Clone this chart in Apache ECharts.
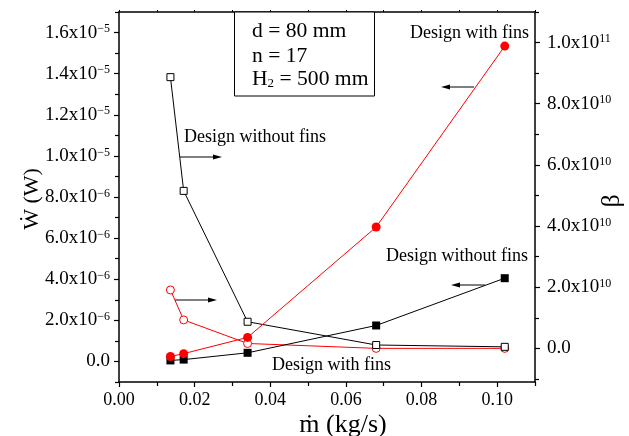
<!DOCTYPE html>
<html>
<head>
<meta charset="utf-8">
<script src="https://cdn.jsdelivr.net/npm/echarts@6/dist/echarts.min.js"></script>
<style>
  html, body { margin: 0; padding: 0; background: #fff; }
  #chart { width: 629px; height: 436px; }
</style>
</head>
<body>
<div id="chart"></div>
<script>
// Mass flow rate (kg/s)
const massFlow = [0.0136, 0.0171, 0.0340, 0.0680, 0.1020];

// Pumping power W (left axis)
const powerNoFins = [5e-8, 9e-8, 4.2e-7, 1.75e-6, 4.05e-6];
const powerFins = [2.4e-7, 3.8e-7, 1.17e-6, 6.54e-6, 1.534e-5];

// Beta (right axis)
const betaNoFins = [8.87e10, 5.15e10, 8.7e9, 1.1e9, 5e8];
const betaFins = [1.91e10, 9.3e9, 1.6e9, 0, 0];

// Tick positions
const xMajor = [0, 0.02, 0.04, 0.06, 0.08, 0.10];
const xMinor = [0.01, 0.03, 0.05, 0.07, 0.09, 0.11];
const xTop = [0, 0.01, 0.02, 0.03, 0.04, 0.05, 0.06, 0.07, 0.08, 0.09, 0.10, 0.11];
const wMajor = [0, 2e-6, 4e-6, 6e-6, 8e-6, 1e-5, 1.2e-5, 1.4e-5, 1.6e-5];
const wMinor = [-1e-6, 1e-6, 3e-6, 5e-6, 7e-6, 9e-6, 1.1e-5, 1.3e-5, 1.5e-5, 1.7e-5];
const bMajor = [0, 2e10, 4e10, 6e10, 8e10, 1e11];
const bMinor = [-1e10, 1e10, 3e10, 5e10, 7e10, 9e10, 1.1e11];

const SERIF = '"Liberation Serif", "Times New Roman", serif';

function sciLabel(v) {
  if (Math.abs(v) < 1e-30) return '{m|0.0}';
  const e = Math.floor(Math.log10(Math.abs(v)) + 1e-9);
  const m = v / Math.pow(10, e);
  return '{m|' + m.toFixed(1) + 'x10}{e|' + String(e).replace('-', '\u2212') + '}';
}
const sciRich = {
  m: { fontFamily: SERIF, fontSize: 19, color: '#000' },
  e: { fontFamily: SERIF, fontSize: 12, color: '#000', verticalAlign: 'top' }
};

function pairs(ys) { return massFlow.map((x, i) => [x, ys[i]]); }

const axisLine = { show: true, onZero: false, lineStyle: { color: '#000', width: 1.5 } };
const hiddenLine = { show: false, onZero: false };

function arrow(x1, x2, y) {
  const dir = x2 > x1 ? 1 : -1;
  return {
    type: 'group',
    children: [
      { type: 'line', shape: { x1: x1, y1: y, x2: x2 - dir * 6, y2: y }, style: { stroke: '#000', lineWidth: 1 } },
      { type: 'polygon', shape: { points: [[x2, y], [x2 - dir * 9, y - 2.5], [x2 - dir * 9, y + 2.5]] }, style: { fill: '#000' } }
    ]
  };
}

function note(text, x, y) {
  return {
    type: 'text', x: x, y: y,
    style: { text: text, fontFamily: SERIF, fontSize: 18, fill: '#000', align: 'left', verticalAlign: 'middle' }
  };
}

function boxLine(text, y) {
  return {
    type: 'text', x: 252, y: y, z: 11, scaleX: 1.08,
    style: {
      text: text, fontFamily: SERIF, fontSize: 20, fill: '#000', align: 'left', verticalAlign: 'middle',
      rich: {
        t: { fontFamily: SERIF, fontSize: 20, fill: '#000' },
        s: { fontFamily: SERIF, fontSize: 12, fill: '#000', verticalAlign: 'bottom' }
      }
    }
  };
}

const chart = echarts.init(document.getElementById('chart'), null, { renderer: 'canvas' });

chart.setOption({
  animation: false,
  backgroundColor: '#fff',
  grid: { left: 119, right: 94, top: 12, bottom: 54 },
  xAxis: [
    {
      type: 'value', min: 0, max: 0.11, position: 'bottom',
      axisLine: axisLine,
      axisTick: { show: true, inside: false, length: 5, customValues: xMajor, lineStyle: { color: '#000', width: 1.2 } },
      axisLabel: { customValues: xMajor, margin: 9, fontFamily: SERIF, fontSize: 18, color: '#000',
        formatter: v => v.toFixed(2) },
      splitLine: { show: false }
    },
    {
      type: 'value', min: 0, max: 0.11, position: 'bottom',
      axisLine: hiddenLine,
      axisTick: { show: true, inside: false, length: 4, customValues: xMinor, lineStyle: { color: '#000', width: 1.2 } },
      axisLabel: { show: false },
      splitLine: { show: false }
    },
    {
      type: 'value', min: 0, max: 0.11, position: 'top',
      axisLine: axisLine,
      axisTick: { show: true, inside: false, length: 2, customValues: xTop, lineStyle: { color: '#000', width: 1 } },
      axisLabel: { show: false },
      splitLine: { show: false }
    }
  ],
  yAxis: [
    {
      type: 'value', min: -1e-6, max: 1.7e-5, position: 'left',
      axisLine: axisLine,
      axisTick: { show: true, inside: false, length: 5, customValues: wMajor, lineStyle: { color: '#000', width: 1.2 } },
      axisLabel: { customValues: wMajor, margin: 9, formatter: sciLabel, rich: sciRich },
      splitLine: { show: false }
    },
    {
      type: 'value', min: -1.1e10, max: 1.1e11, position: 'right',
      axisLine: axisLine,
      axisTick: { show: true, inside: false, length: 5, customValues: bMajor, lineStyle: { color: '#000', width: 1.2 } },
      axisLabel: { customValues: bMajor, margin: 12, formatter: sciLabel, rich: sciRich },
      splitLine: { show: false }
    },
    {
      type: 'value', min: -1e-6, max: 1.7e-5, position: 'left',
      axisLine: hiddenLine,
      axisTick: { show: true, inside: false, length: 4, customValues: wMinor, lineStyle: { color: '#000', width: 1.2 } },
      axisLabel: { show: false },
      splitLine: { show: false }
    },
    {
      type: 'value', min: -1.1e10, max: 1.1e11, position: 'right',
      axisLine: hiddenLine,
      axisTick: { show: true, inside: false, length: 4, customValues: bMinor, lineStyle: { color: '#000', width: 1.2 } },
      axisLabel: { show: false },
      splitLine: { show: false }
    }
  ],
  series: [
    {
      name: 'Beta, design without fins', type: 'line', xAxisIndex: 0, yAxisIndex: 1,
      data: pairs(betaNoFins), symbol: 'rect', symbolSize: 7,
      lineStyle: { color: '#000', width: 1 },
      itemStyle: { color: '#fff', borderColor: '#000', borderWidth: 1 }, z: 3
    },
    {
      name: 'Beta, design with fins', type: 'line', xAxisIndex: 0, yAxisIndex: 1,
      data: pairs(betaFins), symbol: 'circle', symbolSize: 8,
      lineStyle: { color: '#ff0000', width: 1 },
      itemStyle: { color: '#fff', borderColor: '#ff0000', borderWidth: 1 }, z: 2
    },
    {
      name: 'Power, design without fins', type: 'line', xAxisIndex: 0, yAxisIndex: 0,
      data: pairs(powerNoFins), symbol: 'rect', symbolSize: 8,
      lineStyle: { color: '#000', width: 1 },
      itemStyle: { color: '#000' }, z: 3
    },
    {
      name: 'Power, design with fins', type: 'line', xAxisIndex: 0, yAxisIndex: 0,
      data: pairs(powerFins), symbol: 'circle', symbolSize: 9,
      lineStyle: { color: '#ff0000', width: 1 },
      itemStyle: { color: '#ff0000' }, z: 4
    }
  ],
  graphic: [
    // parameter box
    { type: 'rect', shape: { x: 234.5, y: 12, width: 140, height: 84 }, style: { fill: '#fff', stroke: '#000', lineWidth: 1 }, z: 10 },
    boxLine('{t|d = 80 mm}', 32),
    boxLine('{t|n = 17}', 57),
    boxLine('{t|H}{s|2}{t| = 500 mm}', 80),

    // annotations
    note('Design with fins', 410, 33),
    arrow(474, 441, 87),
    note('Design without fins', 184, 137),
    arrow(180, 222, 157),
    arrow(175, 217, 300),
    note('Design without fins', 386, 256),
    arrow(485, 451, 285),
    note('Design with fins', 272, 365),

    // axis titles
    { type: 'text', x: 32, y: 199, rotation: Math.PI / 2,
      style: { text: '\u1E86 (W)', fontFamily: SERIF, fontSize: 22, fill: '#000', align: 'center', verticalAlign: 'middle' } },
    { type: 'text', x: 612, y: 201, rotation: Math.PI / 2,
      style: { text: '\u03B2', fontFamily: SERIF, fontSize: 26, fill: '#000', align: 'center', verticalAlign: 'middle' } },
    { type: 'text', x: 343, y: 425,
      style: { text: '\u1E41 (kg/s)', fontFamily: SERIF, fontSize: 26, fill: '#000', align: 'center', verticalAlign: 'middle' } }
  ]
});
</script>
</body>
</html>
